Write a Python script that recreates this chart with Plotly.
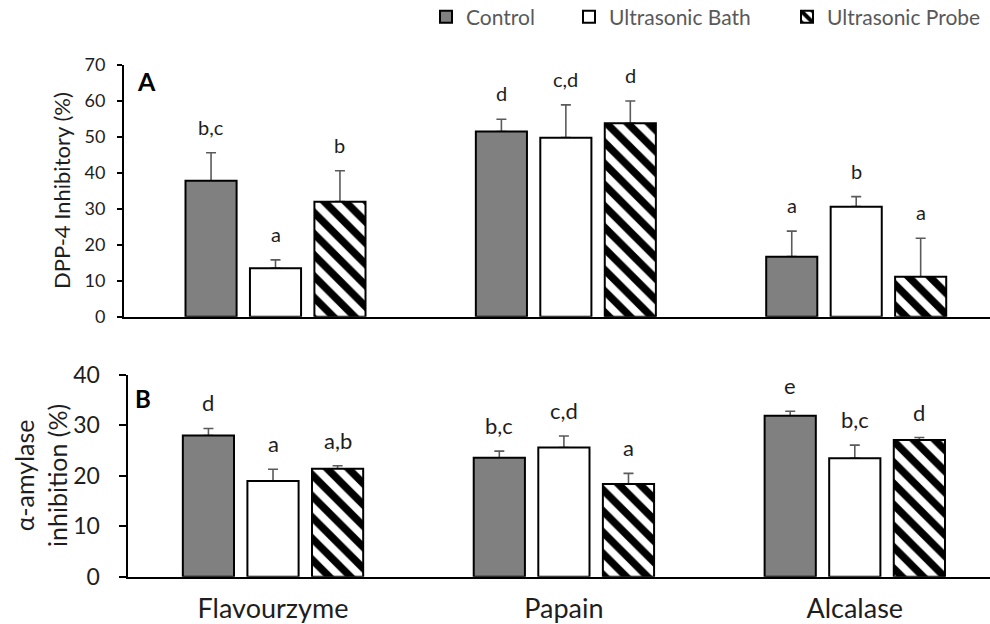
import plotly.graph_objects as go

# Enzymes (x categories) and treatments (series)
enzymes = ["Flavourzyme", "Papain", "Alcalase"]
treatments = ["Control", "Ultrasonic Bath", "Ultrasonic Probe"]

# Panel A: DPP-4 inhibitory activity (%), mean and SD
dpp4_control = [37.8, 51.5, 16.7]
dpp4_bath = [13.5, 49.8, 30.6]
dpp4_probe = [32.0, 53.8, 11.1]
dpp4_sd_control = [7.8, 3.4, 7.1]
dpp4_sd_bath = [2.3, 9.1, 2.8]
dpp4_sd_probe = [8.6, 6.2, 10.7]
dpp4_letters_control = ["b,c", "d", "a"]
dpp4_letters_bath = ["a", "c,d", "b"]
dpp4_letters_probe = ["b", "d", "a"]

# Panel B: alpha-amylase inhibition (%), mean and SD
amy_control = [28.0, 23.6, 31.9]
amy_bath = [19.0, 25.6, 23.5]
amy_probe = [21.4, 18.4, 27.1]
amy_sd_control = [1.4, 1.3, 0.9]
amy_sd_bath = [2.3, 2.3, 2.6]
amy_sd_probe = [0.6, 2.1, 0.5]
amy_letters_control = ["d", "b,c", "e"]
amy_letters_bath = ["a", "c,d", "b,c"]
amy_letters_probe = ["a,b", "a", "d"]

FONT = "Lato"
TXT = "#1e1e1e"
x_pos = list(range(len(enzymes)))

BAR_W = 0.176
SLOT = 0.222
offsets = [-SLOT, 0.0, SLOT]

styles = [
    dict(color="#808080", line=dict(color="black", width=2)),
    dict(color="white", line=dict(color="black", width=2)),
    dict(color="white", line=dict(color="black", width=2),
         pattern=dict(shape="\\", fillmode="replace", fgcolor="#000000", fgopacity=1,
                      bgcolor="#ffffff", size=15, solidity=0.5)),
]

panels = [
    dict(xa="x", ya="y",
         vals=[dpp4_control, dpp4_bath, dpp4_probe],
         sds=[dpp4_sd_control, dpp4_sd_bath, dpp4_sd_probe],
         letters=[dpp4_letters_control, dpp4_letters_bath, dpp4_letters_probe],
         lfont=20, lshift=12),
    dict(xa="x2", ya="y2",
         vals=[amy_control, amy_bath, amy_probe],
         sds=[amy_sd_control, amy_sd_bath, amy_sd_probe],
         letters=[amy_letters_control, amy_letters_bath, amy_letters_probe],
         lfont=22, lshift=10),
]

fig = go.Figure()
annotations = []
legend_names = ["legend", "legend2", "legend3"]

for p_i, p in enumerate(panels):
    # error bars first (transparent bars), so the filled bars sit above their lower ends
    for k in range(3):
        fig.add_trace(go.Bar(
            x=x_pos, y=p["vals"][k], xaxis=p["xa"], yaxis=p["ya"],
            width=BAR_W, offset=offsets[k] - BAR_W / 2,
            marker=dict(color="rgba(0,0,0,0)", line=dict(width=0)),
            error_y=dict(type="data", symmetric=False, array=p["sds"][k],
                         arrayminus=[0] * len(x_pos), color="#5a5a5a",
                         thickness=1.6, width=5),
            showlegend=False, hoverinfo="skip",
        ))
    for k in range(3):
        fig.add_trace(go.Bar(
            x=x_pos, y=p["vals"][k], xaxis=p["xa"], yaxis=p["ya"],
            width=BAR_W, offset=offsets[k] - BAR_W / 2,
            marker=styles[k], name=treatments[k],
            showlegend=(p_i == 0), legend=legend_names[k],
        ))
        for i in x_pos:
            annotations.append(dict(
                x=i + offsets[k], y=p["vals"][k][i] + p["sds"][k][i],
                xref=p["xa"], yref=p["ya"], text=p["letters"][k][i],
                showarrow=False, yanchor="bottom", yshift=p["lshift"],
                font=dict(family=FONT, size=p["lfont"], color=TXT),
            ))

# panel tags
annotations.append(dict(x=146 / 990, y=1 - 81.5 / 624, xref="paper", yref="paper",
                        text="<b>A</b>", showarrow=False, xanchor="center", yanchor="middle",
                        font=dict(family=FONT, size=25, color="black")))
annotations.append(dict(x=142.5 / 990, y=1 - 399 / 624, xref="paper", yref="paper",
                        text="<b>B</b>", showarrow=False, xanchor="center", yanchor="middle",
                        font=dict(family=FONT, size=24, color="black")))

# y-axis titles
annotations.append(dict(x=61 / 990, y=1 - 191 / 624, xref="paper", yref="paper",
                        text="DPP-4 Inhibitory (%)", textangle=-90, showarrow=False,
                        xanchor="center", yanchor="middle",
                        font=dict(family=FONT, size=22, color=TXT)))
annotations.append(dict(x=40 / 990, y=1 - 476 / 624, xref="paper", yref="paper",
                        text="α-amylase<br>inhibition (%)", textangle=-90, showarrow=False,
                        xanchor="center", yanchor="middle",
                        font=dict(family=FONT, size=25, color=TXT)))

axis_common = dict(showgrid=False, zeroline=False, showline=True, linecolor="black",
                   linewidth=2, fixedrange=True)

legend_common = dict(orientation="h", yanchor="middle", y=1 - 17 / 624, xanchor="left",
                     bgcolor="rgba(0,0,0,0)", borderwidth=0,
                     font=dict(family=FONT, size=21, color="#595959"))
text_starts = [466, 609, 827]

fig.update_layout(
    width=990, height=624,
    margin=dict(l=0, r=0, t=0, b=0, autoexpand=False),
    paper_bgcolor="white", plot_bgcolor="white",
    barmode="overlay",
    font=dict(family=FONT, color=TXT),
    xaxis=dict(domain=[124 / 990, 1], range=[-0.5218, 2.4608], anchor="y",
               showticklabels=False, ticks="", **axis_common),
    yaxis=dict(domain=[1 - 316.7 / 624, 1 - 65 / 624], range=[0, 70], anchor="x",
               tickvals=[0, 10, 20, 30, 40, 50, 60, 70], ticks="outside", ticklen=5,
               tickwidth=2, tickcolor="black", ticklabelstandoff=8,
               tickfont=dict(family=FONT, size=18, color=TXT), **axis_common),
    xaxis2=dict(domain=[127.5 / 990, 1], range=[-0.5002, 2.4648], anchor="y2",
                tickvals=x_pos, ticktext=enzymes, ticks="", ticklabelstandoff=7,
                tickfont=dict(family=FONT, size=27, color=TXT), **axis_common),
    yaxis2=dict(domain=[1 - 576.7 / 624, 1 - 375 / 624], range=[0, 40], anchor="x2",
                tickvals=[0, 10, 20, 30, 40], ticks="outside", ticklen=7,
                tickwidth=2, tickcolor="black", ticklabelstandoff=14,
                tickfont=dict(family=FONT, size=23, color=TXT), **axis_common),
    legend=dict(x=(text_starts[0] - 40) / 990, **legend_common),
    legend2=dict(x=(text_starts[1] - 40) / 990, **legend_common),
    legend3=dict(x=(text_starts[2] - 40) / 990, **legend_common),
    annotations=annotations,
    showlegend=True,
)

fig.write_html("out.html")
